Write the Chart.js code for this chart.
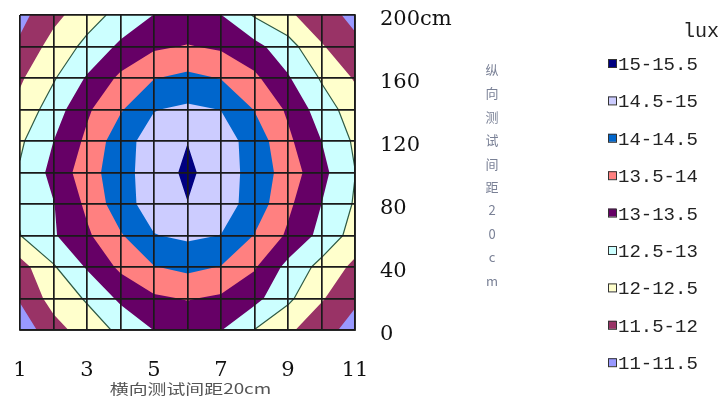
<!DOCTYPE html>
<html>
<head>
<meta charset="utf-8">
<script src="https://cdn.jsdelivr.net/npm/chart.js@4.4.1/dist/chart.umd.min.js"></script>
<style>
  html, body { margin: 0; padding: 0; background: #fff; }
  #wrap { width: 721px; height: 407px; position: relative; }
</style>
</head>
<body>
<div id="wrap"><canvas id="contourChart"></canvas></div>
<script>
// grid columns (horizontal test points) and rows (vertical distance, cm)
const xValues = [1, 2, 3, 4, 5, 6, 7, 8, 9, 10, 11];
const yValues = [200, 180, 160, 140, 120, 100, 80, 60, 40, 20, 0];

// illuminance readings (lux), one array per row, top row first
const row200 = [11.35, 11.85, 12.3, 12.65, 13.01, 13.1, 13.01, 12.45, 12.1, 11.65, 11.4];
const row180 = [11.59, 12.2, 12.62, 13.1, 13.42, 13.53, 13.42, 13.15, 12.7, 12.05, 11.59];
const row160 = [11.93, 12.45, 13.05, 13.6, 13.98, 14.12, 13.98, 13.6, 13.05, 12.45, 11.95];
const row140 = [12.15, 12.75, 13.42, 13.95, 14.48, 14.59, 14.49, 13.98, 13.42, 12.75, 12.25];
const row120 = [12.42, 13.0, 13.6, 14.3, 14.72, 14.99, 14.72, 14.3, 13.6, 13.0, 12.42];
const row100 = [12.55, 13.15, 13.77, 14.32, 14.74, 15.1, 14.74, 14.32, 13.77, 13.15, 12.51];
const row80 = [12.55, 12.98, 13.6, 14.3, 14.72, 14.99, 14.72, 14.3, 13.6, 13.0, 12.45];
const row60 = [12.49, 12.95, 13.42, 13.95, 14.48, 14.59, 14.49, 13.98, 13.42, 12.85, 12.3];
const row40 = [11.8, 12.45, 13.05, 13.6, 13.98, 14.12, 13.98, 13.55, 12.85, 12.35, 11.88];
const row20 = [11.55, 12.2, 12.55, 13.1, 13.42, 13.53, 13.42, 13.15, 12.6, 12.05, 11.57];
const row0 = [11.2, 11.8, 12.25, 12.6, 13.01, 13.1, 13.02, 12.49, 12.1, 11.65, 11.35];
const grid = [row200, row180, row160, row140, row120, row100, row80, row60, row40, row20, row0];

// contour bands, lowest first
const levels = [11, 11.5, 12, 12.5, 13, 13.5, 14, 14.5, 15];
const bandLabels = ['11-11.5', '11.5-12', '12-12.5', '12.5-13', '13-13.5', '13.5-14', '14-14.5', '14.5-15', '15-15.5'];
const bandColors = ['#9999ff', '#993366', '#ffffcc', '#ccffff', '#660066', '#ff8080', '#0066cc', '#ccccff', '#000080'];

const xTickLabels = [1, 3, 5, 7, 9, 11];
const yTickLabels = { 0: '0', 40: '40', 80: '80', 120: '120', 160: '160', 200: '200cm' };
const xTitle = '横向测试间距20cm';
const yTitle = ['纵', '向', '测', '试', '间', '距', '2', '0', 'c', 'm'];
const legendTitle = 'lux';

const lineColor = '#1a1a1a';

// keep the part of a cell polygon where value >= level
function clipAbove(pts, level) {
  const out = [];
  for (let n = 0; n < pts.length; n++) {
    const a = pts[n];
    const b = pts[(n + 1) % pts.length];
    const aIn = a.v >= level;
    const bIn = b.v >= level;
    if (aIn) out.push(a);
    if (aIn !== bIn) {
      const t = (level - a.v) / (b.v - a.v);
      out.push({ x: a.x + t * (b.x - a.x), y: a.y + t * (b.y - a.y), v: level });
    }
  }
  return out;
}

function cellCorners(i, r) {
  return [
    { x: xValues[i], y: yValues[r + 1], v: grid[r + 1][i] },
    { x: xValues[i + 1], y: yValues[r + 1], v: grid[r + 1][i + 1] },
    { x: xValues[i + 1], y: yValues[r], v: grid[r][i + 1] },
    { x: xValues[i], y: yValues[r], v: grid[r][i] }
  ];
}

// axis labels should not push the plot area around
function noPadding(scale) {
  scale.paddingTop = 0;
  scale.paddingBottom = 0;
  scale.paddingLeft = 0;
  scale.paddingRight = 0;
}

const contourPlugin = {
  id: 'contourBands',
  beforeDraw(chart) {
    const { ctx, chartArea, scales } = chart;
    const sx = scales.x;
    const sy = scales.y;
    ctx.save();
    ctx.beginPath();
    ctx.rect(chartArea.left, chartArea.top, chartArea.right - chartArea.left, chartArea.bottom - chartArea.top);
    ctx.clip();

    levels.forEach((level, k) => {
      ctx.beginPath();
      for (let r = 0; r < yValues.length - 1; r++) {
        for (let i = 0; i < xValues.length - 1; i++) {
          const poly = clipAbove(cellCorners(i, r), level);
          if (poly.length < 3) continue;
          poly.forEach((p, n) => {
            const px = sx.getPixelForValue(p.x);
            const py = sy.getPixelForValue(p.y);
            if (n === 0) ctx.moveTo(px, py); else ctx.lineTo(px, py);
          });
          ctx.closePath();
        }
      }
      ctx.fillStyle = bandColors[k];
      ctx.fill();
    });

    // thin outline of the 12.5 contour
    ctx.beginPath();
    for (let r = 0; r < yValues.length - 1; r++) {
      for (let i = 0; i < xValues.length - 1; i++) {
        const c = cellCorners(i, r);
        const hits = [];
        for (let n = 0; n < 4; n++) {
          const a = c[n], b = c[(n + 1) % 4];
          if ((a.v >= 12.5) !== (b.v >= 12.5)) {
            const t = (12.5 - a.v) / (b.v - a.v);
            hits.push([sx.getPixelForValue(a.x + t * (b.x - a.x)), sy.getPixelForValue(a.y + t * (b.y - a.y))]);
          }
        }
        for (let h = 0; h + 1 < hits.length; h += 2) {
          ctx.moveTo(hits[h][0], hits[h][1]);
          ctx.lineTo(hits[h + 1][0], hits[h + 1][1]);
        }
      }
    }
    ctx.strokeStyle = '#2f5a44';
    ctx.lineWidth = 1.2;
    ctx.stroke();
    ctx.restore();
  },
  afterDraw(chart) {
    const { ctx, chartArea } = chart;
    ctx.save();

    // horizontal axis title (stretched like the original)
    ctx.fillStyle = '#555';
    ctx.font = '14px "Noto Sans CJK SC"';
    ctx.textAlign = 'center';
    ctx.textBaseline = 'middle';
    const cx = (chartArea.left + chartArea.right) / 2 + 3;
    ctx.save();
    ctx.translate(cx, 389);
    ctx.scale(1.35, 1);
    ctx.fillText(xTitle, 0, 0);
    ctx.restore();

    // vertical axis title, one upright character per line
    ctx.fillStyle = '#7a8196';
    ctx.font = '13px "Noto Sans CJK SC"';
    yTitle.forEach((ch, n) => {
      ctx.fillText(ch, 492, 70 + n * 23.4);
    });

    // legend
    ctx.fillStyle = '#222';
    ctx.font = '20px "Liberation Mono"';
    ctx.textAlign = 'right';
    ctx.textBaseline = 'alphabetic';
    ctx.fillText(legendTitle, 719, 37);

    ctx.font = '19px "Liberation Mono"';
    ctx.textAlign = 'left';
    ctx.textBaseline = 'middle';
    for (let n = 0; n < bandLabels.length; n++) {
      const k = bandLabels.length - 1 - n;
      const cy = 64 + n * 37.4;
      ctx.fillStyle = bandColors[k];
      ctx.fillRect(608, cy - 5, 8, 8);
      ctx.strokeStyle = '#333';
      ctx.lineWidth = 1;
      ctx.strokeRect(608.5, cy - 4.5, 8, 8);
      ctx.fillStyle = '#222';
      ctx.fillText(bandLabels[k], 618, cy + 1);
    }
    ctx.restore();
  }
};

const ctx = document.getElementById('contourChart').getContext('2d');
new Chart(ctx, {
  type: 'scatter',
  data: {
    datasets: bandLabels.map((label, k) => ({
      label: label,
      data: [],
      backgroundColor: bandColors[k]
    }))
  },
  options: {
    responsive: true,
    maintainAspectRatio: false,
    animation: false,
    layout: { padding: { left: 20, top: 15, right: 241, bottom: 0 } },
    plugins: {
      legend: { display: false },
      tooltip: { enabled: false }
    },
    scales: {
      x: {
        type: 'linear',
        min: 1,
        max: 11,
        afterFit: scale => { scale.height = 77; noPadding(scale); },
        grid: { color: lineColor, lineWidth: 1.7, drawTicks: false },
        border: { display: true, color: lineColor, width: 1.7 },
        ticks: {
          stepSize: 1,
          autoSkip: false,
          maxRotation: 0,
          padding: 28,
          color: '#111',
          font: { family: 'DejaVu Serif', size: 21 },
          callback: v => (xTickLabels.includes(v) ? String(v) : '')
        }
      },
      y: {
        type: 'linear',
        position: 'right',
        min: 0,
        max: 200,
        afterFit: scale => { scale.width = 125; noPadding(scale); },
        grid: { color: lineColor, lineWidth: 1.7, drawTicks: false },
        border: { display: true, color: lineColor, width: 1.7 },
        ticks: {
          stepSize: 20,
          autoSkip: false,
          padding: 25,
          labelOffset: 5,
          color: '#111',
          font: { family: 'DejaVu Serif', size: 21 },
          callback: v => (yTickLabels[v] !== undefined ? yTickLabels[v] : '')
        }
      }
    }
  },
  plugins: [contourPlugin]
});
</script>
</body>
</html>
